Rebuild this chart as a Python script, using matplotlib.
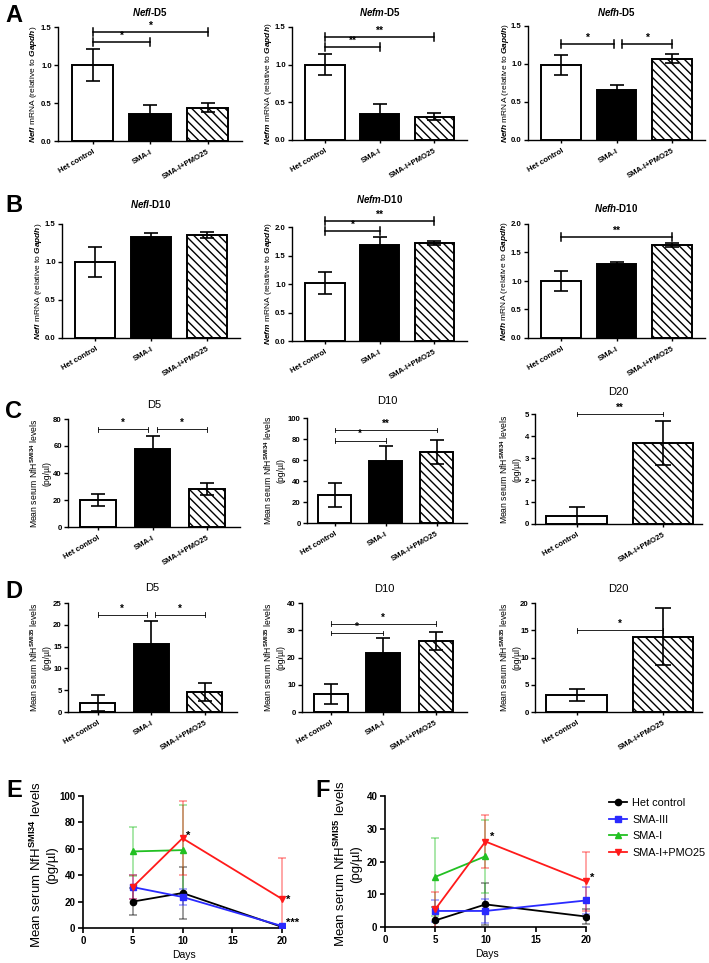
import matplotlib
matplotlib.use("Agg")
import matplotlib.pyplot as plt
from matplotlib.lines import Line2D
import numpy as np

plt.rcParams['font.family'] = ['Liberation Sans', 'DejaVu Sans']
plt.rcParams['font.weight'] = 'bold'
plt.rcParams['mathtext.fontset'] = 'custom'
plt.rcParams['mathtext.rm'] = 'Liberation Sans:bold'
plt.rcParams['mathtext.it'] = 'Liberation Sans:italic:bold'
plt.rcParams['mathtext.bf'] = 'Liberation Sans:bold'
plt.rcParams['mathtext.sf'] = 'Liberation Sans:bold'
plt.rcParams['hatch.linewidth'] = 1.0

W, H = 709, 963

# ---------------- data ----------------
groups3 = ["Het control", "SMA-I", "SMA-I+PMO25"]
groups2 = ["Het control", "SMA-I+PMO25"]

nefl_d5 = [1.00, 0.35, 0.44]
nefl_d5_err = [0.21, 0.12, 0.06]
nefm_d5 = [1.00, 0.35, 0.31]
nefm_d5_err = [0.14, 0.13, 0.05]
nefh_d5 = [0.99, 0.66, 1.07]
nefh_d5_err = [0.13, 0.07, 0.06]

nefl_d10 = [1.00, 1.33, 1.36]
nefl_d10_err = [0.20, 0.05, 0.04]
nefm_d10 = [1.02, 1.68, 1.72]
nefm_d10_err = [0.19, 0.14, 0.04]
nefh_d10 = [1.00, 1.30, 1.63]
nefh_d10_err = [0.17, 0.03, 0.03]

smi34_d5 = [20.0, 58.0, 28.0]
smi34_d5_err = [4.5, 9.5, 4.5]
smi34_d10 = [26.5, 59.0, 68.0]
smi34_d10_err = [11.5, 14.0, 11.5]
smi34_d20 = [0.38, 3.7]
smi34_d20_err = [0.40, 1.0]

smi35_d5 = [2.0, 15.5, 4.6]
smi35_d5_err = [1.8, 5.4, 2.0]
smi35_d10 = [6.6, 21.8, 26.0]
smi35_d10_err = [3.5, 5.5, 3.4]
smi35_d20 = [3.2, 13.8]
smi35_d20_err = [1.1, 5.2]

days = [5, 10, 20]
days_smai = [5, 10]
e_het = [20.0, 26.5, 0.8]
e_het_err = [10.0, 19.5, 0.8]
e_sma3 = [31.0, 23.5, 1.5]
e_sma3_err = [9.0, 6.0, 1.0]
e_smai = [58.0, 59.0]
e_smai_err = [18.5, 34.0]
e_pmo = [31.0, 68.0, 22.0]
e_pmo_err = [9.0, 28.0, 31.0]

f_het = [2.0, 6.9, 3.2]
f_het_err = [4.0, 6.4, 2.3]
f_sma3 = [4.9, 4.9, 8.1]
f_sma3_err = [3.3, 3.6, 4.2]
f_smai = [15.3, 21.6]
f_smai_err = [12.0, 11.2]
f_pmo = [5.4, 26.1, 13.9]
f_pmo_err = [5.3, 8.1, 8.9]

line_labels = ["Het control", "SMA-III", "SMA-I", "SMA-I+PMO25"]
line_colors = ["#000000", "#2a2aff", "#22c022", "#ff1a1a"]
line_markers = ["o", "s", "^", "v"]

fig = plt.figure(figsize=(W / 100, H / 100), dpi=100)


def add_ax(l, r, t, b):
    return fig.add_axes([l / W, 1 - b / H, (r - l) / W, (b - t) / H])


HATCH = '\\\\\\\\'


def bar_panel(rect, cats, vals, errs, ylim, yticks, ylabel, title, title_px, brackets,
              thick_brackets, xlim, width, label_px, title_bold, tfs, star_fs, lfs, lsp):
    ax = add_ax(*rect)
    x = np.arange(len(cats))
    n = len(cats)
    if n == 3:
        fills = ['white', 'black', 'white']
        hatches = [None, None, HATCH]
    else:
        fills = ['white', 'white']
        hatches = [None, HATCH]
    bars = ax.bar(x, vals, width, color=fills, edgecolor='black', linewidth=1.4, zorder=2)
    for b, h in zip(bars, hatches):
        if h:
            b.set_hatch(h)
    ax.errorbar(x, vals, yerr=errs, fmt='none', ecolor='black', elinewidth=1.2,
                capsize=5 if n == 3 else 6, capthick=1.2, zorder=3)
    ax.set_xlim(*xlim)
    ax.set_ylim(*ylim)
    ax.set_yticks(yticks)
    ax.set_xticks(x)
    ax.set_xticklabels(cats, rotation=30, ha='right', rotation_mode='anchor', fontsize=5.6)
    ax.tick_params(axis='y', labelsize=5.6, length=3, width=1.0, pad=1.5)
    ax.tick_params(axis='x', length=2.5, width=1.0, pad=3)
    for s in ['top', 'right']:
        ax.spines[s].set_visible(False)
    for s in ['left', 'bottom']:
        ax.spines[s].set_linewidth(1.0)
    ax.set_ylabel(ylabel, fontsize=lfs, linespacing=lsp)
    l, r, t, b = rect
    ax.yaxis.set_label_coords((label_px - l) / (r - l), 0.5)
    fig.text((l + r) / 2 / W, 1 - title_px / H, title, fontsize=tfs, ha='center', va='center',
             fontweight='bold' if title_bold else 'normal')
    rng = ylim[1] - ylim[0]
    hh = (0.035 if thick_brackets else 0.022) * rng
    lw = 1.1 if thick_brackets else 0.6
    for x1, x2, yb, txt in brackets:
        ax.plot([x1, x2], [yb, yb], color='black', lw=lw, clip_on=False, zorder=4)
        for xx in (x1, x2):
            ax.plot([xx, xx], [yb - hh, yb + hh], color='black', lw=lw, clip_on=False, zorder=4)
        ax.text((x1 + x2) / 2, yb + 0.012 * rng, txt, ha='center', va='bottom',
                fontsize=star_fs, clip_on=False)
    return ax


def glab(g):
    return r"$\it{" + g + "}$ mRNA (relative to $\it{Gapdh}$)"


tl = lambda g, d: r"$\it{" + g + "}$-" + d

# Row A
xl3 = (-0.6, 2.6)
A = dict(thick_brackets=True, xlim=xl3, width=0.72, title_bold=True, tfs=7, star_fs=7.5, lfs=6.0, lsp=1.2)
bar_panel((58, 242, 27, 141), groups3, nefl_d5, nefl_d5_err, (0, 1.5), [0, 0.5, 1.0, 1.5],
          glab("Nefl"), tl("Nefl", "D5"), 12,
          [(0, 1, 1.30, '*'), (0, 2, 1.43, '*')], label_px=39, **A)
bar_panel((292, 467, 27, 140), groups3, nefm_d5, nefm_d5_err, (0, 1.5), [0, 0.5, 1.0, 1.5],
          glab("Nefm"), tl("Nefm", "D5"), 12,
          [(0, 1, 1.23, '**'), (0, 2, 1.37, '**')], label_px=274, **A)
bar_panel((528, 705, 26, 140), groups3, nefh_d5, nefh_d5_err, (0, 1.5), [0, 0.5, 1.0, 1.5],
          glab("Nefh"), tl("Nefh", "D5"), 12,
          [(0, 0.95, 1.26, '*'), (1.1, 2, 1.26, '*')], label_px=511, **A)

# Row B
bar_panel((62, 240, 224, 338), groups3, nefl_d10, nefl_d10_err, (0, 1.5), [0, 0.5, 1.0, 1.5],
          glab("Nefl"), tl("Nefl", "D10"), 204, [], label_px=44, **A)
bar_panel((292, 467, 227, 341), groups3, nefm_d10, nefm_d10_err, (0, 2.0), [0, 0.5, 1.0, 1.5, 2.0],
          glab("Nefm"), tl("Nefm", "D10"), 199,
          [(0, 1, 1.93, '*'), (0, 2, 2.10, '**')], label_px=274, **A)
bar_panel((528, 705, 224, 338), groups3, nefh_d10, nefh_d10_err, (0, 2.0), [0, 0.5, 1.0, 1.5, 2.0],
          glab("Nefh"), tl("Nefh", "D10"), 208,
          [(0, 2, 1.77, '**')], label_px=510, **A)

# Row C
lab34 = "Mean serum NfH$^{\\mathrm{SMI34}}$ levels\n(pg/µl)"
lab35 = "Mean serum NfH$^{\\mathrm{SMI35}}$ levels\n(pg/µl)"
C3 = dict(thick_brackets=False, xlim=(-0.55, 2.6), width=0.65, title_bold=False, tfs=8, star_fs=7,
          lfs=6.2, lsp=1.35)
C2 = dict(C3, xlim=(-0.48, 1.45), width=0.7)
bar_panel((68, 240, 419, 527), groups3, smi34_d5, smi34_d5_err, (0, 80), [0, 20, 40, 60, 80],
          lab34, "D5", 405, [(0, 0.92, 72.5, '*'), (1.08, 2, 72.5, '*')], label_px=51, **C3)
bar_panel((307, 467, 418, 523), groups3, smi34_d10, smi34_d10_err, (0, 100), [0, 20, 40, 60, 80, 100],
          lab34, "D10", 401, [(0, 1, 78.5, '*'), (0, 2, 88.5, '**')], label_px=285, **C3)
bar_panel((535, 702, 414, 524), groups2, smi34_d20, smi34_d20_err, (0, 5), [0, 1, 2, 3, 4, 5],
          lab34, "D20", 392, [(0, 1, 5.0, '**')], label_px=521, **C2)

# Row D
bar_panel((68, 237, 603, 712), groups3, smi35_d5, smi35_d5_err, (0, 25), [0, 5, 10, 15, 20, 25],
          lab35, "D5", 588, [(0, 0.92, 22.3, '*'), (1.08, 2, 22.3, '*')], label_px=51, **C3)
bar_panel((302, 467, 603, 712), groups3, smi35_d10, smi35_d10_err, (0, 40), [0, 10, 20, 30, 40],
          lab35, "D10", 589, [(0, 1, 29.0, '*'), (0, 2, 32.4, '*')], label_px=285, **C3)
bar_panel((535, 702, 603, 712), groups2, smi35_d20, smi35_d20_err, (0, 20), [0, 5, 10, 15, 20],
          lab35, "D20", 589, [(0, 1, 15.0, '*')], label_px=521, **C2)


# Rows E / F
def line_panel(rect, series, ylim, yticks, ylabel, label_px, stars):
    ax = add_ax(*rect)
    for (xs, ys, es), c, m, lab in zip(series, line_colors, line_markers, line_labels):
        ax.errorbar(xs, ys, yerr=es, fmt='none', ecolor=c, alpha=0.45, elinewidth=1.2,
                    capsize=3, capthick=1.2, zorder=2)
        ax.plot(xs, ys, color=c, marker=m, markersize=4.5, lw=1.3, label=lab, zorder=3)
    ax.set_xlim(0, 20.3)
    ax.set_ylim(*ylim)
    ax.set_xticks([0, 5, 10, 15, 20])
    ax.set_yticks(yticks)
    ax.tick_params(labelsize=7, length=3.5, width=1.2, pad=2)
    for s in ['top', 'right']:
        ax.spines[s].set_visible(False)
    for s in ['left', 'bottom']:
        ax.spines[s].set_linewidth(1.2)
    ax.spines['bottom'].set_bounds(0, 20)
    ax.set_xlabel("Days", fontsize=7.5, labelpad=3)
    ax.set_ylabel(ylabel, fontsize=9.5, linespacing=1.25)
    l, r, t, b = rect
    ax.yaxis.set_label_coords((label_px - l) / (r - l), 0.48)
    for xx, yy, txt in stars:
        ax.text(xx, yy, txt, fontsize=8, ha='left', va='center', clip_on=False)
    return ax


e_series = [(days, e_het, e_het_err), (days, e_sma3, e_sma3_err),
            (days_smai, e_smai, e_smai_err), (days, e_pmo, e_pmo_err)]
f_series = [(days, f_het, f_het_err), (days, f_sma3, f_sma3_err),
            (days_smai, f_smai, f_smai_err), (days, f_pmo, f_pmo_err)]

line_panel((83, 285, 796, 928), e_series, (0, 100), [0, 20, 40, 60, 80, 100], lab34, 58,
           [(10.4, 70, '*'), (20.4, 21, '*'), (20.4, 4, '***')])
line_panel((385, 589, 796, 927), f_series, (0, 40), [0, 10, 20, 30, 40], lab35, 362,
           [(10.4, 27.5, '*'), (20.4, 15, '*')])

handles = [Line2D([0], [0], color=c, marker=m, markersize=4.5, lw=1.3)
           for c, m in zip(line_colors, line_markers)]
fig.legend(handles, line_labels, loc='upper left', bbox_to_anchor=(606 / W, 1 - 795 / H),
           frameon=False, handlelength=1.6, labelspacing=0.6, handletextpad=0.5,
           borderaxespad=0, borderpad=0.3, prop={'weight': 'normal', 'size': 7.8})

# panel letters
for letter, px, py in [("A", 14, 15), ("B", 14, 205), ("C", 14, 411), ("D", 14, 591),
                       ("E", 14, 790), ("F", 323, 790)]:
    fig.text(px / W, 1 - py / H, letter, fontsize=17, fontweight='bold', ha='center', va='center')

fig.savefig("out.png", dpi=100)
